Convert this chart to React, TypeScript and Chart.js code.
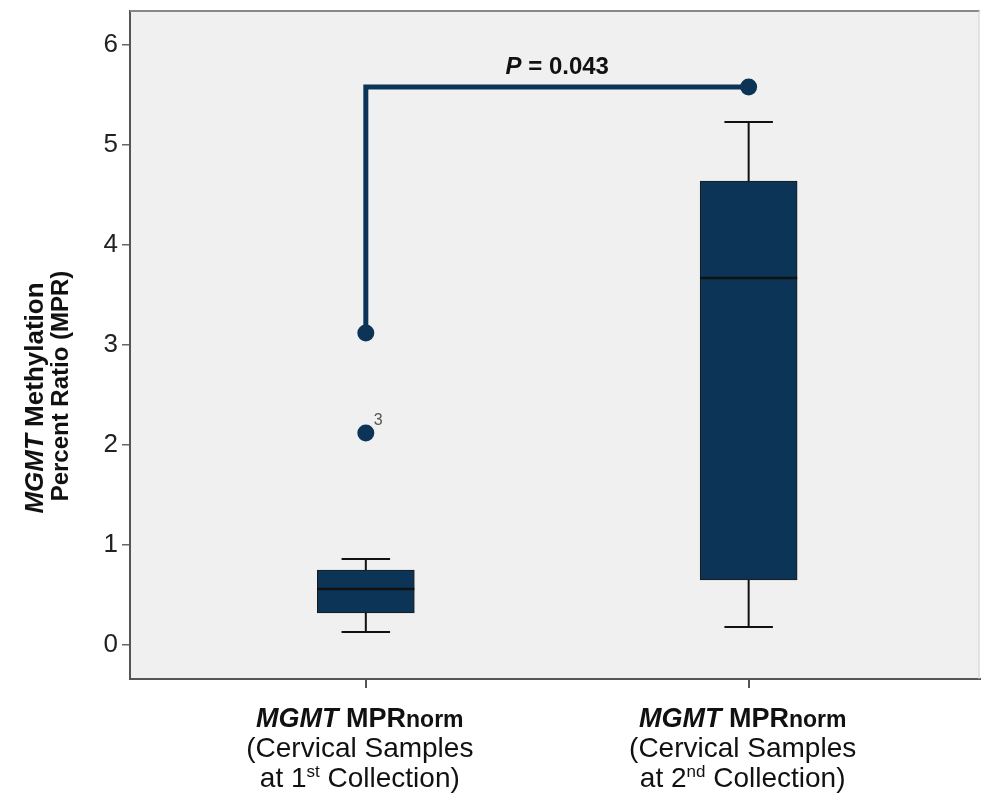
import React, { useEffect, useRef } from 'react';
import { Chart, registerables } from 'chart.js';

Chart.register(...registerables);

// ---- data ----
const groupPositions = [1, 2];
const collectionNumbers = ['1', '2'];
const collectionSuffixes = ['st', 'nd'];
const whiskerLow = [0.13, 0.18];
const quartile1 = [0.32, 0.65];
const medians = [0.56, 3.67];
const quartile3 = [0.75, 4.64];
const whiskerHigh = [0.86, 5.23];
const outlierGroups = [1, 1];
const outlierValues = [2.12, 3.12];
const outlierLabels = ['3', ''];
const bracketLevel = 5.58;
const pValueText = '0.043';
const yTickValues = [0, 1, 2, 3, 4, 5, 6];

const NAVY = '#0b3457';
const FONT = '"Liberation Sans", Arial, Helvetica, sans-serif';

type Run = { text: string; font: string; rise?: number };

function drawRuns(ctx: CanvasRenderingContext2D, runs: Run[], cx: number, baseline: number) {
  const widths = runs.map((r) => {
    ctx.font = r.font;
    return ctx.measureText(r.text).width;
  });
  const total = widths.reduce((a, b) => a + b, 0);
  let x = cx - total / 2;
  runs.forEach((r, i) => {
    ctx.font = r.font;
    ctx.fillText(r.text, x, baseline - (r.rise || 0));
    x += widths[i];
  });
}

const boxPlugin = {
  id: 'boxExtras',
  beforeDraw(chart: any) {
    const { ctx, chartArea: a } = chart;
    ctx.save();
    ctx.fillStyle = '#f0f0f0';
    ctx.fillRect(a.left, a.top, a.right - a.left, a.bottom - a.top);
    ctx.restore();
  },
  afterDatasetsDraw(chart: any) {
    const { ctx } = chart;
    const xs = chart.scales.x;
    const ys = chart.scales.y;
    const meta = chart.getDatasetMeta(0);
    ctx.save();
    ctx.strokeStyle = '#111';
    ctx.lineCap = 'butt';
    groupPositions.forEach((g, i) => {
      const bar = meta.data[i];
      const half = bar.width / 2;
      const cx = xs.getPixelForValue(g);
      // median
      const my = ys.getPixelForValue(medians[i]);
      ctx.lineWidth = 2.5;
      ctx.beginPath();
      ctx.moveTo(cx - half, my);
      ctx.lineTo(cx + half, my);
      ctx.stroke();
      ctx.lineWidth = 2;
      // upper whisker
      const q3y = ys.getPixelForValue(quartile3[i]);
      const why = ys.getPixelForValue(whiskerHigh[i]);
      ctx.beginPath();
      ctx.moveTo(cx, q3y);
      ctx.lineTo(cx, why);
      ctx.moveTo(cx - half / 2, why);
      ctx.lineTo(cx + half / 2, why);
      ctx.stroke();
      // lower whisker
      const q1y = ys.getPixelForValue(quartile1[i]);
      const wly = ys.getPixelForValue(whiskerLow[i]);
      ctx.beginPath();
      ctx.moveTo(cx, q1y);
      ctx.lineTo(cx, wly);
      ctx.moveTo(cx - half / 2, wly);
      ctx.lineTo(cx + half / 2, wly);
      ctx.stroke();
    });
    ctx.restore();
  },
  afterDraw(chart: any) {
    const { ctx, chartArea: a } = chart;
    const xs = chart.scales.x;
    const ys = chart.scales.y;
    ctx.save();
    // top and right frame
    ctx.strokeStyle = '#888';
    ctx.lineWidth = 2;
    ctx.beginPath();
    ctx.moveTo(a.left, a.top);
    ctx.lineTo(a.right, a.top);
    ctx.stroke();
    ctx.strokeStyle = '#d0d0d0';
    ctx.lineWidth = 1;
    ctx.beginPath();
    ctx.moveTo(a.right - 0.5, a.top);
    ctx.lineTo(a.right - 0.5, a.bottom);
    ctx.stroke();

    ctx.fillStyle = '#111';
    ctx.textBaseline = 'alphabetic';
    ctx.textAlign = 'left';

    // x category labels
    groupPositions.forEach((g, i) => {
      const cx = xs.getPixelForValue(g) - 6;
      drawRuns(ctx, [
        { text: 'MGMT', font: `italic bold 27px ${FONT}` },
        { text: ' MPR', font: `bold 27px ${FONT}` },
        { text: 'norm', font: `bold 23px ${FONT}` },
      ], cx, a.bottom + 48);
      drawRuns(ctx, [{ text: '(Cervical Samples', font: `28px ${FONT}` }], cx, a.bottom + 78);
      drawRuns(ctx, [
        { text: 'at ' + collectionNumbers[i], font: `28px ${FONT}` },
        { text: collectionSuffixes[i], font: `17px ${FONT}`, rise: 10 },
        { text: ' Collection)', font: `28px ${FONT}` },
      ], cx, a.bottom + 108);
    });

    // y axis title (rotated)
    ctx.save();
    ctx.translate(43, 398);
    ctx.rotate(-Math.PI / 2);
    drawRuns(ctx, [
      { text: 'MGMT', font: `italic bold 26px ${FONT}` },
      { text: ' Methylation', font: `bold 26px ${FONT}` },
    ], 0, 0);
    ctx.restore();
    ctx.save();
    ctx.translate(68, 386);
    ctx.rotate(-Math.PI / 2);
    drawRuns(ctx, [{ text: 'Percent Ratio (MPR)', font: `bold 24px ${FONT}` }], 0, 0);
    ctx.restore();

    // P value over the bracket
    const pcx = (xs.getPixelForValue(groupPositions[0]) + xs.getPixelForValue(groupPositions[1])) / 2;
    const py = ys.getPixelForValue(bracketLevel);
    drawRuns(ctx, [
      { text: 'P', font: `italic bold 24px ${FONT}` },
      { text: ' = ' + pValueText, font: `bold 24px ${FONT}` },
    ], pcx, py - 13);

    // outlier case labels
    ctx.fillStyle = '#555';
    ctx.font = `16px ${FONT}`;
    outlierValues.forEach((v, i) => {
      if (!outlierLabels[i]) return;
      const ox = xs.getPixelForValue(outlierGroups[i]);
      const oy = ys.getPixelForValue(v);
      ctx.fillText(outlierLabels[i], ox + 8, oy - 8);
    });
    ctx.restore();
  },
};

export default function App() {
  const canvasRef = useRef<HTMLCanvasElement | null>(null);

  useEffect(() => {
    const canvas = canvasRef.current;
    if (!canvas) return;
    const chart = new Chart(canvas, {
      type: 'bar',
      data: {
        datasets: [
          {
            type: 'bar',
            data: groupPositions.map((g, i) => ({ x: g, y: [quartile1[i], quartile3[i]] })) as any,
            backgroundColor: NAVY,
            borderColor: '#1a1a1a',
            borderWidth: 1,
            borderSkipped: false,
            barThickness: 97,
            order: 3,
          } as any,
          {
            type: 'line',
            data: [
              { x: outlierGroups[1], y: outlierValues[1] },
              { x: groupPositions[0], y: bracketLevel },
              { x: groupPositions[1], y: bracketLevel },
            ],
            borderColor: NAVY,
            borderWidth: 5,
            borderJoinStyle: 'miter',
            pointRadius: [0, 0, 8.5],
            pointBackgroundColor: NAVY,
            pointBorderWidth: 0,
            tension: 0,
            fill: false,
            order: 2,
          } as any,
          {
            type: 'scatter',
            data: outlierValues.map((v, i) => ({ x: outlierGroups[i], y: v })),
            backgroundColor: NAVY,
            borderWidth: 0,
            pointRadius: 8.5,
            order: 1,
          } as any,
        ],
      },
      options: {
        responsive: false,
        maintainAspectRatio: false,
        animation: false,
        events: [],
        layout: { padding: { top: 11, right: 1, left: 0, bottom: 0 } },
        plugins: { legend: { display: false }, tooltip: { enabled: false } },
        scales: {
          x: {
            type: 'linear',
            min: 0.384,
            max: 2.603,
            offset: false,
            afterBuildTicks: (s: any) => {
              s.ticks = groupPositions.map((v) => ({ value: v }));
            },
            afterFit: (s: any) => {
              s.height = 119;
              s.paddingLeft = 0;
              s.paddingRight = 0;
            },
            ticks: { display: false },
            grid: {
              offset: false,
              drawOnChartArea: false,
              drawTicks: true,
              tickLength: 9,
              color: '#555',
              lineWidth: 2,
            },
            border: { display: true, color: '#555', width: 2 },
          },
          y: {
            type: 'linear',
            min: -0.34,
            max: 6.34,
            afterBuildTicks: (s: any) => {
              s.ticks = yTickValues.map((v) => ({ value: v }));
            },
            afterFit: (s: any) => {
              s.width = 130;
              s.paddingTop = 0;
              s.paddingBottom = 0;
            },
            ticks: {
              font: { family: FONT, size: 26 },
              color: '#222',
              padding: 4,
            },
            grid: {
              drawOnChartArea: false,
              drawTicks: true,
              tickLength: 8,
              color: '#666',
              lineWidth: 1.5,
            },
            border: { display: true, color: '#555', width: 2 },
          },
        },
      } as any,
      plugins: [boxPlugin],
    });
    return () => chart.destroy();
  }, []);

  return (
    <div style={{ position: 'fixed', left: 0, top: 0, width: 981, height: 798, overflow: 'hidden', background: '#fff' }}>
      <canvas ref={canvasRef} width={988} height={798} style={{ display: 'block' }} />
    </div>
  );
}
